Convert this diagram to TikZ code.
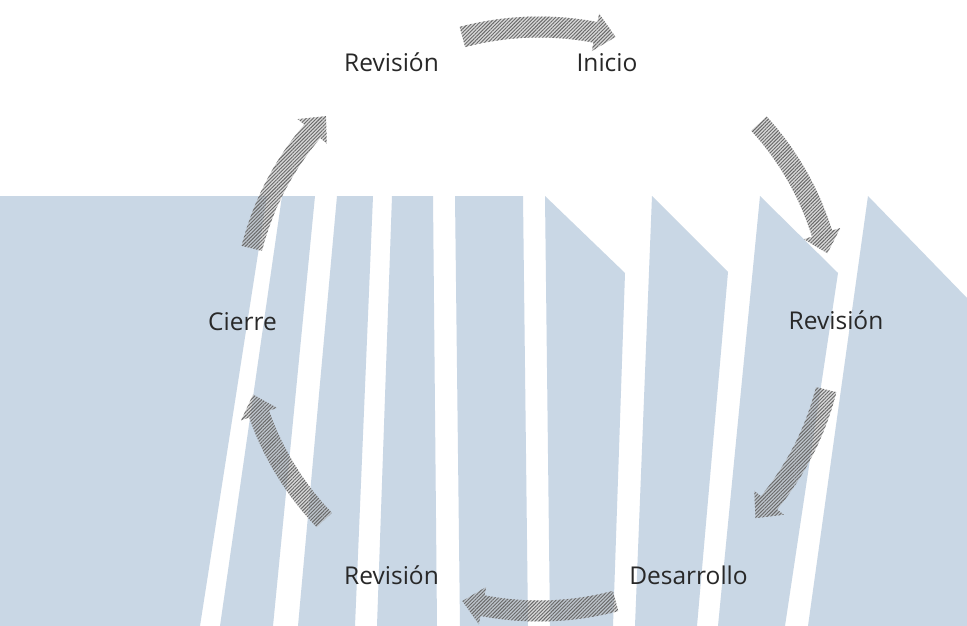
\documentclass[tikz,border=0pt]{standalone}
\usepackage{fontspec}
\setmainfont{Open Sans}
\usetikzlibrary{patterns.meta}
\definecolor{stripe}{RGB}{201,215,229}
\definecolor{hatchdark}{RGB}{105,105,105}
\definecolor{labeltext}{RGB}{40,40,40}
\newcommand\cyclearrow[2]{%
  \pgfmathsetmacro\aH{#2-4}%
  \path[cyclearrowstyle]
    plot[domain=#1:\aH,samples=30] ({539+306.5*cos(\x)},{319+302.5*sin(\x)})
    -- ({539+315*cos(\aH)},{319+311*sin(\aH)})
    -- ({539+296*cos(#2)},{319+292*sin(#2)})
    -- ({539+277*cos(\aH)},{319+273*sin(\aH)})
    -- plot[domain=\aH:#1,samples=30] ({539+285.5*cos(\x)},{319+281.5*sin(\x)})
    -- cycle;}
\begin{document}
\begin{tikzpicture}[x=1pt,y=-1pt,
  lbl/.style={font=\fontsize{24.5}{28}\selectfont, text=labeltext, anchor=base, inner sep=0pt},
  cyclearrowstyle/.style={preaction={fill=gray!60, fill opacity=0.5},
    pattern={Lines[angle=45,distance=2.5pt,line width=0.95pt]}, pattern color=hatchdark}]
\useasboundingbox (0,0) rectangle (967,626);
\fill[white] (0,0) rectangle (967,626);
% background stripes
\fill[stripe] (0,196) -- (267,196) -- (200,626) -- (0,626) -- cycle;
\fill[stripe] (282,196) -- (315,196) -- (273,626) -- (220,626) -- cycle;
\fill[stripe] (337,196) -- (373,196) -- (355,626) -- (298,626) -- cycle;
\fill[stripe] (392,196) -- (433,196) -- (437,626) -- (377,626) -- cycle;
\fill[stripe] (455,196) -- (523,196) -- (528,626) -- (460,626) -- cycle;
\fill[stripe] (545,196) -- (625,273) -- (613,626) -- (550,626) -- cycle;
\fill[stripe] (652,196) -- (728,272) -- (697,626) -- (635,626) -- cycle;
\fill[stripe] (760,196) -- (838,273) -- (785,626) -- (718,626) -- cycle;
\fill[stripe] (868,196) -- (967,298) -- (967,626) -- (808,626) -- cycle;
% labels
\node[lbl] (rev1) at (391.5,72) {Revisión};
\node[lbl] (ini) at (607,72) {Inicio};
\node[lbl] (rev2) at (836,329) {Revisión};
\node[lbl] (des) at (688.5,584) {Desarrollo};
\node[lbl] (rev3) at (391.5,584) {Revisión};
\node[lbl] (cie) at (242.5,330) {Cierre};
% cycle arrows
\cyclearrow{-105}{-75}
\cyclearrow{-42}{-13}
\cyclearrow{14}{43}
\cyclearrow{75}{105}
\cyclearrow{136.5}{165}
\cyclearrow{194}{224}
\end{tikzpicture}
\end{document}
